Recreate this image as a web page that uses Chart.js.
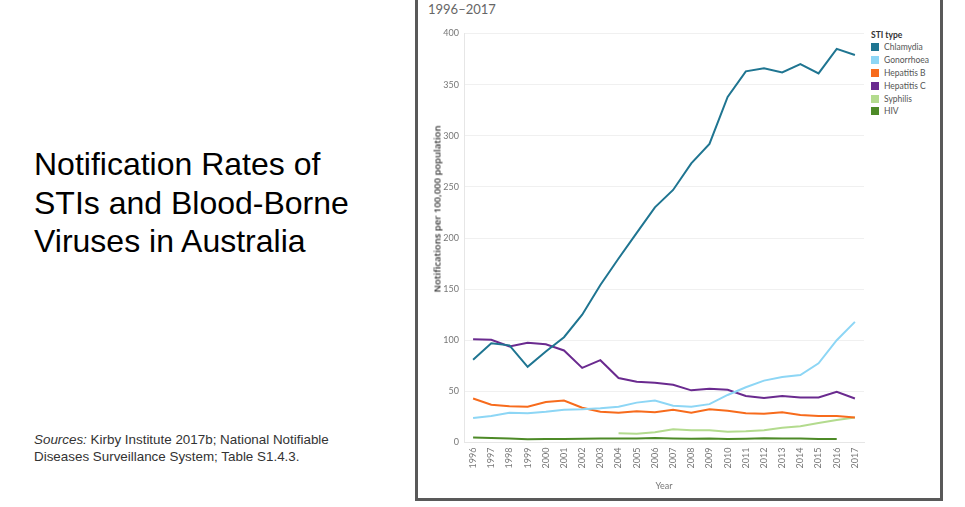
<!DOCTYPE html>
<html lang="en">
<head>
<meta charset="utf-8">
<script src="https://cdn.jsdelivr.net/npm/chart.js@4.4.0/dist/chart.umd.min.js"></script>
<style>
    body { margin: 0; width: 965px; height: 507px; background: #fff; overflow: hidden; position: relative; font-family: "Liberation Sans", Arial, sans-serif; }
    .slideTitle { position: absolute; left: 34px; top: 145px; font-size: 32px; line-height: 38.5px; color: #000; white-space: nowrap; }
    .sources { position: absolute; left: 34px; top: 431px; font-size: 13.4px; line-height: 17px; color: #333; white-space: nowrap; }
    .frame { position: absolute; left: 415px; top: -10px; width: 522px; height: 505px; border: 3px solid #595959; background: #fff; }
    .chartTitle { position: absolute; left: 428px; top: -16px; font-family: Lato, "Open Sans", sans-serif; font-size: 13px; line-height: 17px; color: #666; white-space: nowrap; }
    #chartBox { position: absolute; left: 418px; top: 0; width: 450px; height: 495px; }
    .yTitle { position: absolute; left: 437px; top: 209px; transform: translate(-50%, -50%) rotate(-90deg); font-family: "Open Sans", sans-serif; font-size: 9.5px; font-weight: 600; color: #333; white-space: nowrap; }
    #legend { position: absolute; left: 871px; top: 30px; font-family: Lato, "Open Sans", sans-serif; font-size: 8.5px; color: #555; }
    #legend .head { font-weight: bold; color: #333; height: 11px; }
    #legend .item { height: 12.8px; display: flex; align-items: center; }
    #legend .sw { width: 8px; height: 8px; margin-right: 5px; }
</style>
</head>
<body>

<div class="slideTitle">Notification Rates of<br>STIs and Blood-Borne<br>Viruses in Australia</div>
<div class="sources"><i>Sources:</i> Kirby Institute 2017b; National Notifiable<br>Diseases Surveillance System; Table S1.4.3.</div>

<div class="frame"></div>
<div class="chartTitle">Notification rates of selected STIs and blood-borne viruses, by type,<br>1996–2017</div>
<div id="chartBox"><canvas id="stiChart"></canvas></div>
<div class="yTitle">Notifications per 100,000 population</div>
<div id="legend"></div>

<script>
    var years = ['1996','1997','1998','1999','2000','2001','2002','2003','2004','2005','2006',
                 '2007','2008','2009','2010','2011','2012','2013','2014','2015','2016','2017'];

    var chlamydia   = [81, 97, 95, 74, 89, 103, 125, 154, 180, 205, 230, 247, 273, 292, 338, 363, 366, 362, 370, 361, 385, 379];
    var gonorrhoea  = [24, 26, 29, 28.5, 30, 32, 32.5, 33.5, 35, 39, 41, 36, 35, 37.5, 46.5, 54, 60.5, 64, 66, 77.5, 100, 118];
    var hepatitisB  = [43, 37, 35.5, 35, 39.5, 41, 34, 30, 29, 30.5, 29.5, 32, 29, 32.5, 31, 28.5, 28, 29.5, 27, 26, 26, 24.5];
    var hepatitisC  = [101, 100.5, 94, 97.5, 96, 90, 73, 80.5, 63, 59.5, 58.5, 56.5, 51, 52.5, 51.5, 45.5, 43.5, 45.5, 44, 44, 49.5, 43];
    var syphilis    = [null, null, null, null, null, null, null, null, 9, 8.5, 10, 13, 12, 12, 10.5, 11, 12, 14.5, 16, 19, 22, 24.5];
    var hiv         = [5, 4.5, 3.8, 3.2, 3.4, 3.4, 3.7, 4, 4, 4, 4.4, 4, 3.7, 4, 3.5, 3.7, 4.1, 4, 4, 3.5, 3.5, null];

    var seriesNames  = ['Chlamydia', 'Gonorrhoea', 'Hepatitis B', 'Hepatitis C', 'Syphilis', 'HIV'];
    var seriesColors = ['#1f7591', '#8dd6f5', '#f76b1c', '#6a2a8f', '#b3db8e', '#4d8a27'];
    var yTicks = [0, 50, 100, 150, 200, 250, 300, 350, 400];

    var stiChart = {
        chart: null,

        build: function () {
            var allData = [chlamydia, gonorrhoea, hepatitisB, hepatitisC, syphilis, hiv];
            var datasets = [];

            for (var i = 0; i < seriesNames.length; i++) {
                datasets.push({
                    label: seriesNames[i],
                    data: allData[i],
                    borderColor: seriesColors[i],
                    backgroundColor: seriesColors[i],
                    borderWidth: 2,
                    pointRadius: 0,
                    tension: 0,
                    spanGaps: false
                });
            }

            var tickFont = { family: 'Lato, "Open Sans", sans-serif', size: 9 };

            const config = {
                type: 'line',
                data: { labels: years, datasets: datasets },
                options: {
                    responsive: true,
                    maintainAspectRatio: false,
                    animation: false,
                    layout: { padding: { top: 33.5, right: 4, left: 0, bottom: 0 } },
                    plugins: {
                        legend: { display: false },
                        tooltip: { enabled: false }
                    },
                    scales: {
                        x: {
                            offset: true,
                            grid: { display: false, tickLength: 3 },
                            border: { color: '#e6e6e6' },
                            ticks: { color: '#777', font: tickFont, minRotation: 90, maxRotation: 90, autoSkip: false, padding: 2 },
                            title: { display: true, text: 'Year', color: '#777', font: tickFont, padding: { top: 3 } },
                            afterFit: function (scale) { scale.height = 52.5; }
                        },
                        y: {
                            min: 0,
                            max: 400,
                            afterBuildTicks: function (scale) {
                                scale.ticks = yTicks.map(function (v) { return { value: v }; });
                            },
                            grid: { color: '#f0f0f0', drawTicks: false },
                            border: { color: '#e6e6e6' },
                            ticks: { color: '#777', font: tickFont, padding: 5 },
                            afterFit: function (scale) { scale.width = 46; }
                        }
                    }
                }
            };

            const ctx = document.getElementById('stiChart').getContext('2d');
            stiChart.chart = new Chart(ctx, config);
        },

        buildLegend: function () {
            var html = '<div class="head">STI type</div>';
            for (var i = 0; i < seriesNames.length; i++) {
                html += '<div class="item"><span class="sw" style="background:' + seriesColors[i] + '"></span>' + seriesNames[i] + '</div>';
            }
            document.getElementById('legend').innerHTML = html;
        }
    };

    stiChart.build();
    stiChart.buildLegend();
</script>
</body>
</html>
